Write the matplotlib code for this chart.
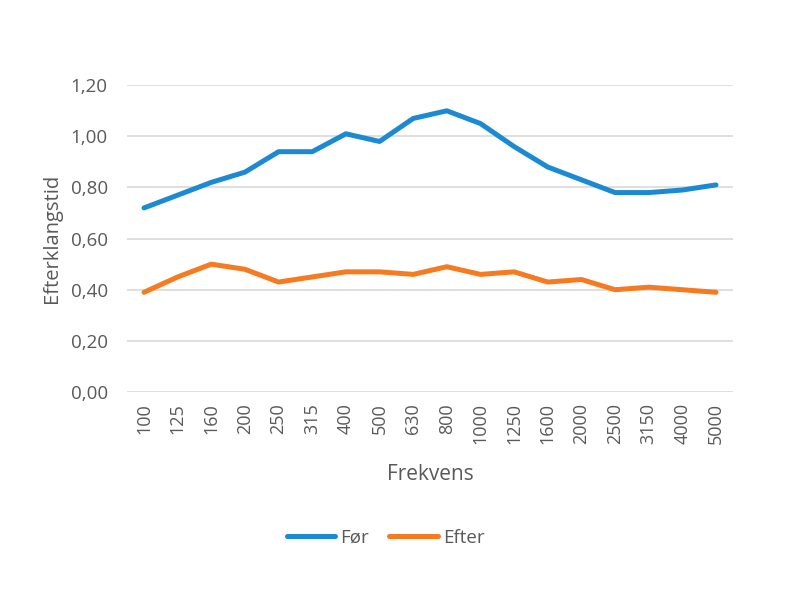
"""
Efterklangstid før og efter, pr. frekvensbånd.
"""
import matplotlib.pyplot as plt
from matplotlib.ticker import FuncFormatter

FREKVENS = ["100", "125", "160", "200", "250", "315", "400", "500", "630",
            "800", "1000", "1250", "1600", "2000", "2500", "3150", "4000", "5000"]
FOER = [0.72, 0.77, 0.82, 0.86, 0.94, 0.94, 1.01, 0.98, 1.07,
        1.10, 1.05, 0.96, 0.88, 0.83, 0.78, 0.78, 0.79, 0.81]
EFTER = [0.39, 0.45, 0.50, 0.48, 0.43, 0.45, 0.47, 0.47, 0.46,
         0.49, 0.46, 0.47, 0.43, 0.44, 0.40, 0.41, 0.40, 0.39]

BLUE = "#1b8ad3"
ORANGE = "#f57a20"
TEXT = "#595959"
GRID = "#d9d9d9"

plt.rcParams.update({
    "font.family": ["Open Sans", "DejaVu Sans"],
    "font.size": 11,
})


def main():
    fig = plt.figure(figsize=(8, 5.98), dpi=100)
    ax = fig.add_axes([0.159, 0.3445, 0.757, 0.513])

    x = list(range(len(FREKVENS)))
    ax.plot(x, FOER, color=BLUE, lw=3.6, solid_capstyle="round", label="Før")
    ax.plot(x, EFTER, color=ORANGE, lw=3.6, solid_capstyle="round", label="Efter")

    ax.set_xlim(-0.5, len(FREKVENS) - 0.5)
    ax.set_ylim(0, 1.2)
    ax.set_yticks([0, 0.2, 0.4, 0.6, 0.8, 1.0, 1.2])
    ax.yaxis.set_major_formatter(FuncFormatter(lambda v, _: f"{v:.2f}".replace(".", ",")))
    ax.set_xticks(x)
    ax.set_xticklabels(FREKVENS, rotation=90)

    ax.grid(axis="y", color=GRID, lw=1.2)
    ax.set_axisbelow(True)
    for s in ax.spines.values():
        s.set_visible(False)
    ax.tick_params(axis="x", length=0, colors=TEXT, labelsize=13, pad=8)
    ax.tick_params(axis="y", length=0, colors=TEXT, labelsize=13.5, pad=14)

    ax.set_xlabel("Frekvens", color=TEXT, fontsize=15, labelpad=14)
    ax.set_ylabel("Efterklangstid", color=TEXT, fontsize=14.5, labelpad=6)

    fig.legend(loc="center", bbox_to_anchor=(0.482, 0.101), ncol=2, frameon=False,
               fontsize=13.5, labelcolor=TEXT, handlelength=2.6, columnspacing=1.1,
               handletextpad=0.25)

    fig.savefig("out.png", dpi=100)
    plt.close(fig)


if __name__ == "__main__":
    main()
